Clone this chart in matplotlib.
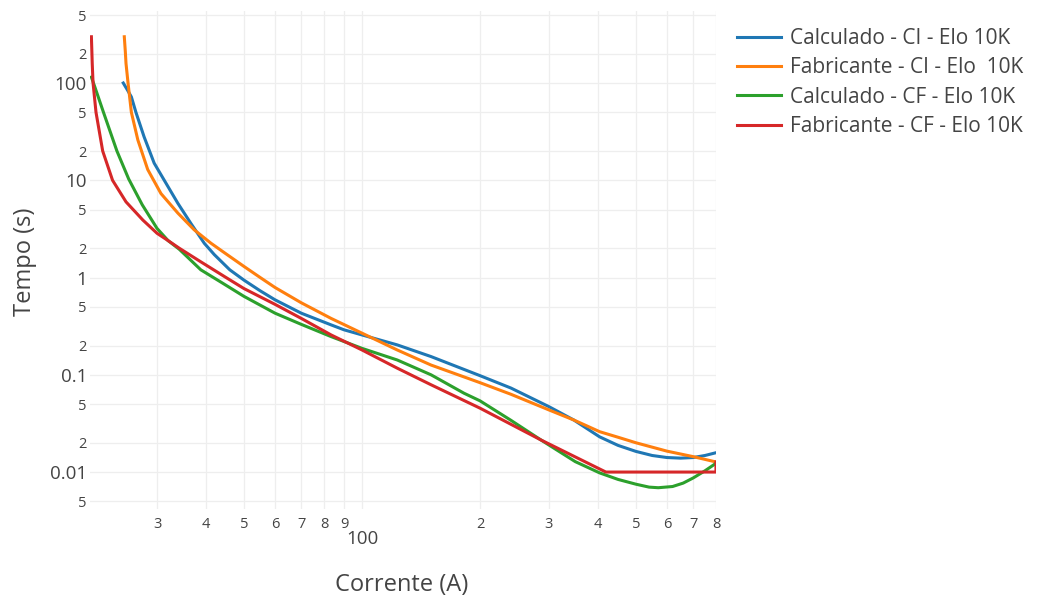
import matplotlib
matplotlib.use("Agg")
import matplotlib.pyplot as plt

plt.rcParams['font.family'] = ['Open Sans', 'DejaVu Sans']

# Curvas tempo x corrente (elo fusível 10K)
calc_ci_x = [24.6, 25.2, 25.8, 26.5, 27.8, 29.5, 31.3, 33.9, 36.6, 39.6, 42, 46, 50, 55, 60, 70,
             83.4, 90, 100, 123, 150, 200, 240, 300, 347, 404, 450, 500, 550, 600, 650, 700, 750, 800]
calc_ci_y = [100, 85, 72, 50, 28, 15, 10, 5.8, 3.6, 2.25, 1.72, 1.2, 0.94, 0.73, 0.59, 0.43,
             0.326, 0.29, 0.257, 0.203, 0.154, 0.098, 0.073, 0.047, 0.0343, 0.023, 0.0188, 0.0163,
             0.0148, 0.0141, 0.0139, 0.0141, 0.0148, 0.0158]

fab_ci_x = [24.75, 24.9, 25.0, 25.3, 25.8, 26.8, 28.4, 30.7, 33.9, 37.3, 41.2, 45, 50, 55, 60, 70,
            83.4, 100, 123, 150, 200, 240, 300, 347, 404, 450, 500, 600, 700, 800]
fab_ci_y = [299, 210, 159, 100, 50, 26, 12.9, 7.3, 4.6, 3.1, 2.25, 1.75, 1.3, 1.0, 0.79, 0.55,
            0.38, 0.268, 0.18, 0.126, 0.083, 0.063, 0.0435, 0.0343, 0.026, 0.0228, 0.020, 0.0164, 0.0144, 0.0127]

calc_cf_x = [20.4, 20.8, 21.9, 23.7, 25.4, 27.5, 30, 32, 34.2, 38.8, 44, 50, 60, 70, 83.4,
             100, 123, 150, 182, 200, 240, 286, 350, 404, 450, 500, 540, 570, 620, 660, 700, 750, 800]
calc_cf_y = [115, 92, 50, 20, 10.3, 5.6, 3.2, 2.4, 1.95, 1.2, 0.88, 0.64, 0.43, 0.33, 0.247,
             0.187, 0.142, 0.1, 0.0647, 0.054, 0.034, 0.0214, 0.0128, 0.0098, 0.0084, 0.0075,
             0.0070, 0.0069, 0.0071, 0.0077, 0.0087, 0.0103, 0.0123]

fab_cf_x = [20.4, 20.45, 20.5, 20.6, 20.96, 21.8, 23.1, 25, 27.6, 30, 32, 34.2, 38.8, 45, 50, 60, 70,
            83.4, 100, 123, 150, 200, 286, 419, 800, 800]
fab_cf_y = [299, 220, 159, 100, 50, 20, 10, 6.0, 3.9, 2.85, 2.4, 2.0, 1.45, 1.0, 0.77, 0.53, 0.38,
            0.257, 0.18, 0.117, 0.079, 0.0454, 0.0214, 0.0100, 0.0100, 0.0127]

labels = ["Calculado - CI - Elo 10K", "Fabricante - CI - Elo  10K",
          "Calculado - CF - Elo 10K", "Fabricante - CF - Elo 10K"]
colors = ['#1f77b4', '#ff7f0e', '#2ca02c', '#d62728']

x_minor = [30, 40, 50, 60, 70, 80, 90, 200, 300, 400, 500, 600, 700, 800]
x_minor_labels = ['3', '4', '5', '6', '7', '8', '9', '2', '3', '4', '5', '6', '7', '8']
y_major = [0.01, 0.1, 1, 10, 100]
y_major_labels = ['0.01', '0.1', '1', '10', '100']
y_minor = [0.005, 0.02, 0.05, 0.2, 0.5, 2, 5, 20, 50, 200, 500]
y_minor_labels = ['5', '2', '5', '2', '5', '2', '5', '2', '5', '2', '5']

fig = plt.figure(figsize=(10.42, 6.02), dpi=100)
ax = fig.add_axes([0.0861, 0.155, 0.601, 0.8267])

series = [(calc_ci_x, calc_ci_y), (fab_ci_x, fab_ci_y), (calc_cf_x, calc_cf_y), (fab_cf_x, fab_cf_y)]
for (xs, ys), lab, col in zip(series, labels, colors):
    ax.plot(xs, ys, color=col, lw=2.2, label=lab, solid_joinstyle='round')

ax.set_xscale('log')
ax.set_yscale('log')
ax.set_xlim(20.2, 800)
ax.set_ylim(0.0042, 550)

ax.set_xticks([100], ['100'])
ax.set_xticks(x_minor, x_minor_labels, minor=True)
ax.set_yticks(y_major, y_major_labels)
ax.set_yticks(y_minor, y_minor_labels, minor=True)

ax.tick_params(axis='both', which='both', length=0, colors='#444444')
ax.tick_params(axis='x', which='major', labelsize=13.5, pad=15)
ax.tick_params(axis='x', which='minor', labelsize=10.5, pad=6)
ax.tick_params(axis='y', which='major', labelsize=13.5, pad=2)
ax.tick_params(axis='y', which='minor', labelsize=10.5, pad=2)

ax.grid(True, which='both', color='#eeeeee', lw=0.9)
ax.set_axisbelow(True)
for s in ax.spines.values():
    s.set_visible(False)

fig.text(402 / 1042, 1 - 585 / 602, 'Corrente (A)', ha='center', va='center',
         fontsize=17, color='#444444')
fig.text(25 / 1042, 1 - 262 / 602, 'Tempo (s)', ha='center', va='center',
         rotation=90, fontsize=17, color='#444444')

leg = fig.legend(loc='upper left', bbox_to_anchor=(737 / 1042, 1 - 28 / 602), frameon=False,
                 fontsize=15, handlelength=2.1, handletextpad=0.45, labelspacing=0.4,
                 borderpad=0, borderaxespad=0)
for t in leg.get_texts():
    t.set_color('#444444')

fig.savefig('out.png', dpi=100)
